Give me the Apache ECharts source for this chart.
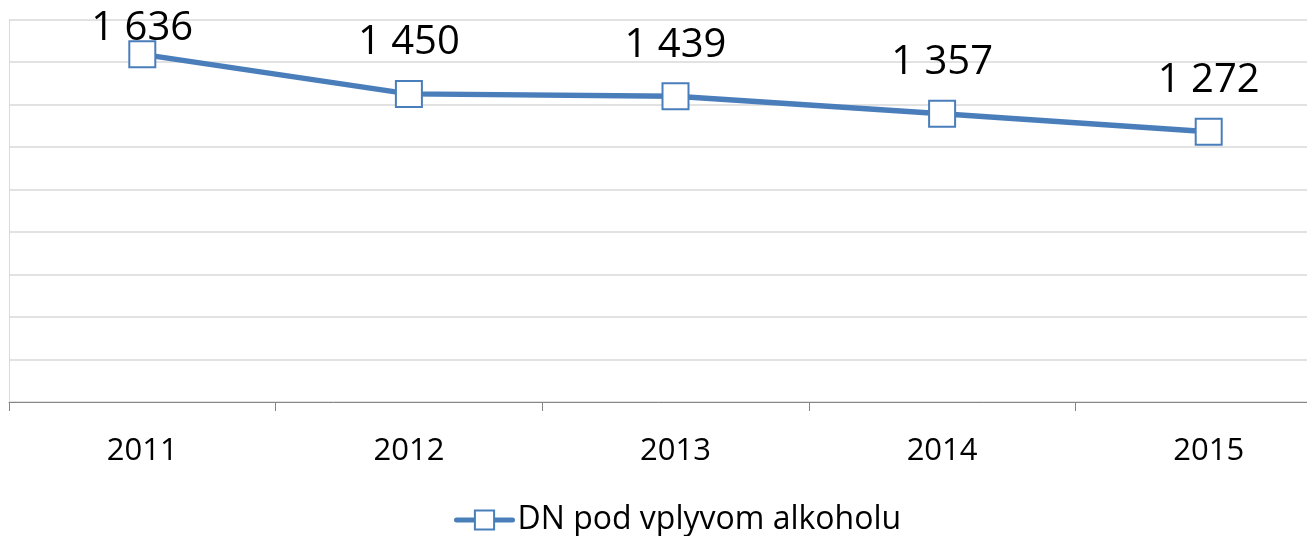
<!DOCTYPE html>
<html>
<head>
<meta charset="utf-8">
<script src="https://cdn.jsdelivr.net/npm/echarts@6/dist/echarts.min.js"></script>
<style>
  html, body { margin: 0; padding: 0; background: #ffffff; }
  #chart { width: 1307px; height: 536px; }
</style>
</head>
<body>
<div id="chart"></div>
<script>
// data
var years = ['2011', '2012', '2013', '2014', '2015']
var dnValues = [1636, 1450, 1439, 1357, 1272]
var seriesName = 'DN pod vplyvom alkoholu'

var blue = '#4a7ebb'
var font = '"Open Sans", "DejaVu Sans", sans-serif'

// first label is pushed down inside the plot like in the original
var seriesData = dnValues.map(function (v, i) {
  if (i === 0) {
    return { value: v, label: { offset: [0, 25] } }
  }
  return v
})

var myChart = echarts.init(document.getElementById('chart'))

var option = {
  animation: false,
  backgroundColor: '#ffffff',
  textStyle: { fontFamily: font },
  grid: {
    left: 9,
    top: 19.5,
    right: -35,
    bottom: 134,
    outerBoundsMode: 'none'
  },
  legend: {
    data: [seriesName],
    bottom: -5,
    left: 449,
    itemWidth: 56,
    itemHeight: 24,
    itemGap: 6,
    lineStyle: { width: 5, cap: 'round' },
    textStyle: {
      fontSize: 32,
      color: '#000000',
      fontFamily: font
    }
  },
  xAxis: {
    type: 'category',
    data: years,
    boundaryGap: true,
    axisLine: { lineStyle: { color: '#868686', width: 1 } },
    axisTick: { show: true, length: 9, lineStyle: { color: '#868686' } },
    axisLabel: {
      color: '#000000',
      fontSize: 31,
      margin: 34,
      fontFamily: font
    }
  },
  yAxis: {
    type: 'value',
    min: 0,
    max: 1800,
    interval: 200,
    axisLine: { show: true, lineStyle: { color: '#d9d9d9', width: 1 } },
    axisTick: { show: false },
    axisLabel: { show: false },
    splitLine: { lineStyle: { color: '#d9d9d9', width: 1.5 } }
  },
  series: [
    {
      name: seriesName,
      type: 'line',
      data: seriesData,
      symbol: 'rect',
      symbolSize: 26,
      lineStyle: { color: blue, width: 5.5 },
      itemStyle: { color: '#ffffff', borderColor: blue, borderWidth: 2 },
      label: {
        show: true,
        position: 'top',
        distance: 17,
        fontSize: 40,
        color: '#000000',
        fontFamily: font,
        formatter: function (p) {
          return String(p.value).replace(/\B(?=(\d{3})+(?!\d))/g, ' ')
        }
      }
    }
  ]
}

myChart.setOption(option)
</script>
</body>
</html>
